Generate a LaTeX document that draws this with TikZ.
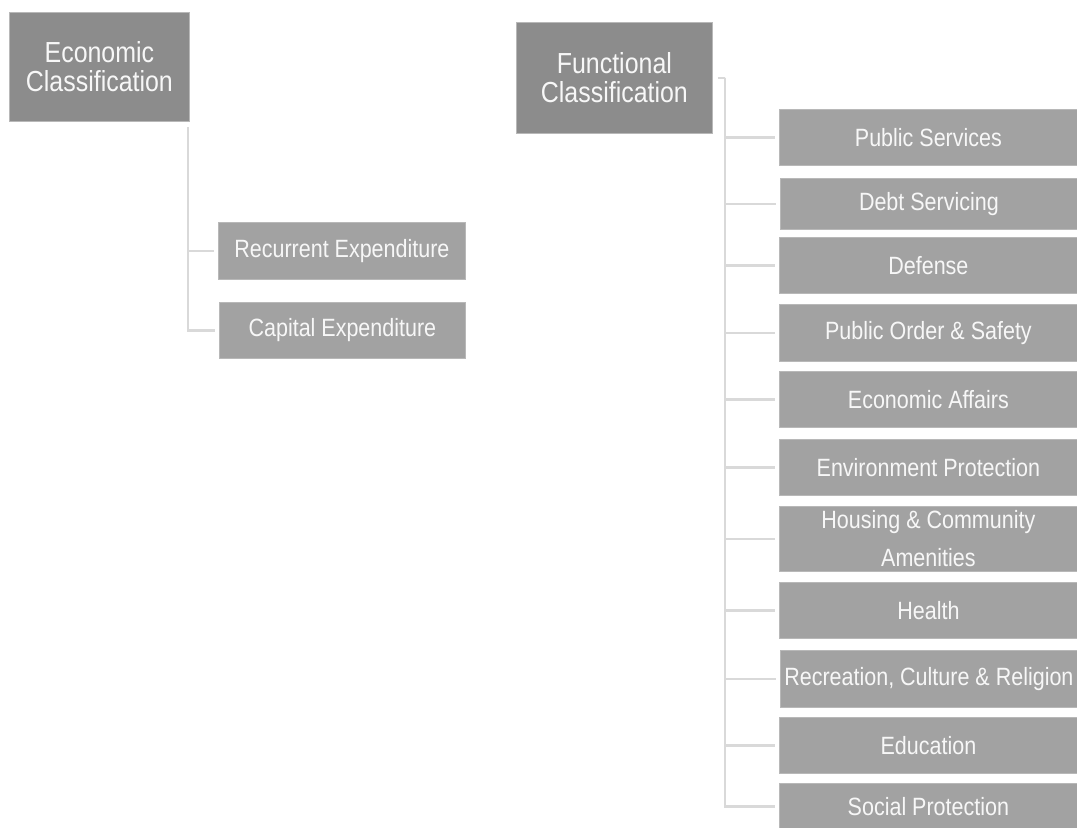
\documentclass[tikz,border=0pt]{standalone}
\usepackage{fontspec}
\setmainfont{Liberation Sans}[FakeStretch=0.86]
\definecolor{headfill}{HTML}{8C8C8C}
\definecolor{itemfill}{HTML}{A2A2A2}
\definecolor{boxedge}{HTML}{B8B8B8}
\definecolor{linkgray}{HTML}{D9D9D9}
\definecolor{labelwhite}{HTML}{F7F7F7}
\begin{document}
\begin{tikzpicture}[x=1bp, y=-1bp]
	\useasboundingbox (0,0) rectangle (1077,828);
	\begin{scope}[every node/.style = {shape=rectangle, anchor=north west, draw=boxedge, line width=0.8bp, inner sep=0pt, align=center, text=labelwhite}]
		\tikzstyle{head}=[fill=headfill, font=\fontsize{29bp}{29bp}\selectfont]
		\tikzstyle{item}=[fill=itemfill, font=\fontsize{25bp}{38bp}\selectfont]
		% economic side
		\node (eco) [head, minimum width=180bp, minimum height=109bp] at (9,12) {Economic\\Classification};
		\node (rec) [item, minimum width=247bp, minimum height=57bp] at (218,222) {Recurrent Expenditure};
		\node (cap) [item, minimum width=246bp, minimum height=56bp] at (219,302) {Capital Expenditure};
		% functional side
		\node (fun) [head, minimum width=196bp, minimum height=111bp] at (516,22) {Functional\\Classification};
		\node (pub) [item, minimum width=298bp, minimum height=56bp] at (779,109) {Public Services};
		\node (debt) [item, minimum width=297bp, minimum height=51bp] at (780,178) {Debt Servicing};
		\node (def) [item, minimum width=298bp, minimum height=56bp] at (779,237) {Defense};
		\node (order) [item, minimum width=298bp, minimum height=57bp] at (779,304) {Public Order \& Safety};
		\node (affairs) [item, minimum width=298bp, minimum height=56bp] at (779,371) {Economic Affairs};
		\node (env) [item, minimum width=298bp, minimum height=56bp] at (779,439) {Environment Protection};
		\node (housing) [item, minimum width=298bp, minimum height=65bp] at (779,506) {Housing \& Community\\Amenities};
		\node (health) [item, minimum width=298bp, minimum height=56bp] at (779,582) {Health};
		\node (recr) [item, minimum width=297bp, minimum height=57bp] at (780,650) {Recreation, Culture \& Religion};
		\node (edu) [item, minimum width=298bp, minimum height=56bp] at (779,717) {Education};
		\node (social) [item, minimum width=298bp, minimum height=46bp] at (779,783) {Social Protection};
	\end{scope}

	\begin{scope}[linkgray, line width=2.5bp]
		\draw ([xshift=-2bp, yshift=-5bp]eco.south east) |- ([xshift=-4bp]rec.west);
		\draw ([xshift=-2bp, yshift=-5bp]eco.south east) |- ([xshift=-4bp]cap.west);
		\coordinate (spine) at ([xshift=12bp]fun.east);
		\draw ([xshift=5bp]fun.east) -- (spine);
		\foreach \n in {pub, debt, def, order, affairs, env, housing, health, recr, edu, social}
			\draw (spine) |- ([xshift=-4bp]\n.west);
	\end{scope}
\end{tikzpicture}
\end{document}
